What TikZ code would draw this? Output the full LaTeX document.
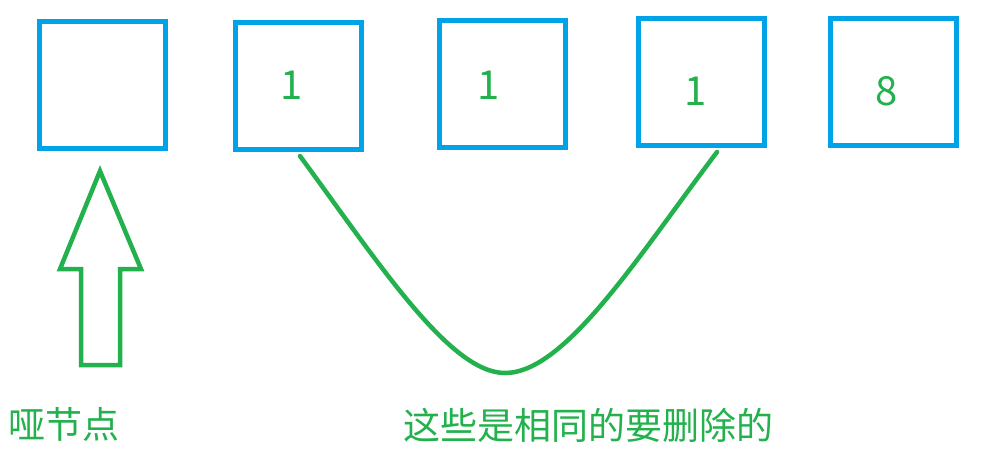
\documentclass[tikz,border=0pt]{standalone}
\usepackage{fontspec}
\setmainfont{Noto Sans CJK SC}
\definecolor{boxblue}{HTML}{00A2E8}
\definecolor{mygreen}{HTML}{22B14C}
\begin{document}
\begin{tikzpicture}[x=1pt,y=-1pt,
  cell/.style={draw=boxblue,line width=5pt,minimum width=126pt,minimum height=127pt,inner sep=0pt},
  digit/.style={text=mygreen,font=\fontsize{40}{40}\selectfont,inner sep=0pt},
  label/.style={text=mygreen,font=\fontsize{37}{37}\selectfont,inner sep=0pt},
  gline/.style={draw=mygreen,line width=4.5pt,line cap=round,line join=round}]
\useasboundingbox (0,0) rectangle (991,469);
\node[cell] (b1) at (102.5,85) {};
\node[cell] (b2) at (298.5,85.5) {};
\node[cell] (b3) at (502.5,83.5) {};
\node[cell] (b4) at (701.5,82) {};
\node[cell] (b5) at (893.5,82) {};
\node[digit] (d2) at (292,85.5) {1};
\node[digit] (d3) at (489,85) {1};
\node[digit] (d4) at (696,91) {1};
\node[digit] (d5) at (887,91) {8};
\coordinate (cs) at (300,156);
\coordinate (cm) at (505,373);
\coordinate (ce) at (717,152);
\draw[gline] (cs) .. controls (380,265) and (450,373) .. (cm)
  .. controls (565,373) and (637,258) .. (ce);
\draw[gline,line join=miter] (100,171) -- (141,269) -- (120,269) -- (120,365) -- (81,365) -- (81,269) -- (60,269) -- cycle;
\node[label] (t1) at (64,424) {哑节点};
\node[label] (t2) at (588.5,425.5) {这些是相同的要删除的};
\end{tikzpicture}
\end{document}
